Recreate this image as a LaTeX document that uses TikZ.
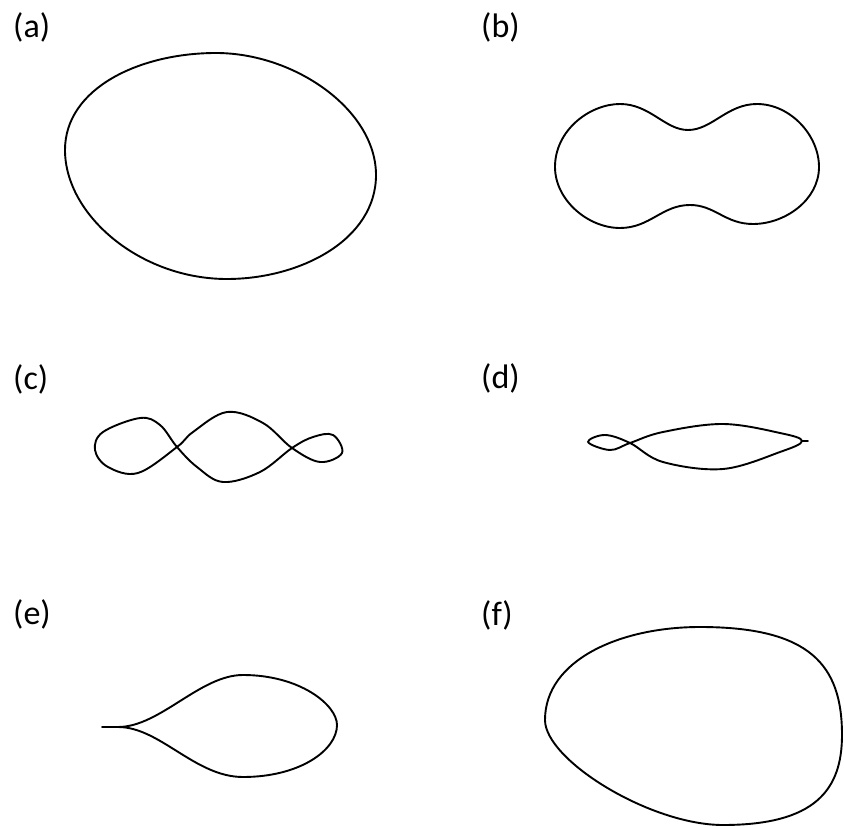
\documentclass[tikz,border=0pt]{standalone}
\usepackage{fontspec}
\setmainfont{Carlito}
\usepackage{tikz}
\usetikzlibrary{positioning}

\begin{document}
\begin{tikzpicture}[x=1pt, y=-1pt,
    curve/.style={line width=1.9pt, line join=round, line cap=round},
    lbl/.style={anchor=west, inner sep=0pt, font=\fontsize{34}{40}\selectfont}]
    \useasboundingbox (0,0) rectangle (844,826);

    % labels
    \node[lbl] (lblA) at (13,27)  {(a)};
    \node[lbl] (lblB) at (481,27) {(b)};
    \node[lbl] (lblC) at (13,379) {(c)};
    \node[lbl] (lblD) at (481,378) {(d)};
    \node[lbl] (lblE) at (13,614) {(e)};
    \node[lbl] (lblF) at (481,615) {(f)};

    % (a) egg
    \draw[curve] (216,53) .. controls (295,53) and (376,110) .. (376,175)
      .. controls (376,240) and (300,279) .. (227,279)
      .. controls (140,279) and (65,215) .. (65,150)
      .. controls (65,88) and (140,53) .. (216,53) -- cycle;

    % (b) peanut
    \draw[curve] (555,167) .. controls (555,130) and (590,104) .. (620,104)
      .. controls (650,104) and (665,130) .. (688,130)
      .. controls (712,130) and (727,104) .. (757,104)
      .. controls (790,104) and (819,135) .. (819,167)
      .. controls (819,200) and (785,224) .. (753,224)
      .. controls (725,224) and (715,205) .. (690,205)
      .. controls (662,205) and (650,228) .. (620,228)
      .. controls (588,228) and (555,200) .. (555,167) -- cycle;

    % (c) two crossings
    \draw[curve] plot[smooth cycle, tension=0.6] coordinates {
      (177,447) (193,432) (227,412) (263,423) (292,448) (320,462) (342,453)
      (333,435) (313,437) (292,448) (260,472) (223,482) (197,467) (177,447)
      (160,425) (140,418) (103,432) (95,450) (108,467) (138,473)};

    % (d) small loop and tip
    \draw[curve] plot[smooth cycle, tension=0.6] coordinates {
      (630,443) (663,432) (723,424) (780,433) (802,441) (780,452) (723,469)
      (663,462) (630,443) (605,435) (588,442) (610,450)};
    \draw[curve] (802,441) -- (808,441);

    % (e) drop with cusp
    \draw[curve] (102,727) -- (118,727)
      .. controls (160,727) and (200,675) .. (243,675)
      .. controls (300,675) and (337,705) .. (337,725)
      .. controls (337,750) and (300,777) .. (243,777)
      .. controls (195,777) and (160,727) .. (118,727);

    % (f) rounded blob
    \draw[curve] (700,627) .. controls (810,627) and (842,665) .. (842,735)
      .. controls (842,790) and (815,825) .. (723,825)
      .. controls (650,825) and (545,760) .. (545,720)
      .. controls (545,660) and (620,627) .. (700,627) -- cycle;
\end{tikzpicture}
\end{document}
